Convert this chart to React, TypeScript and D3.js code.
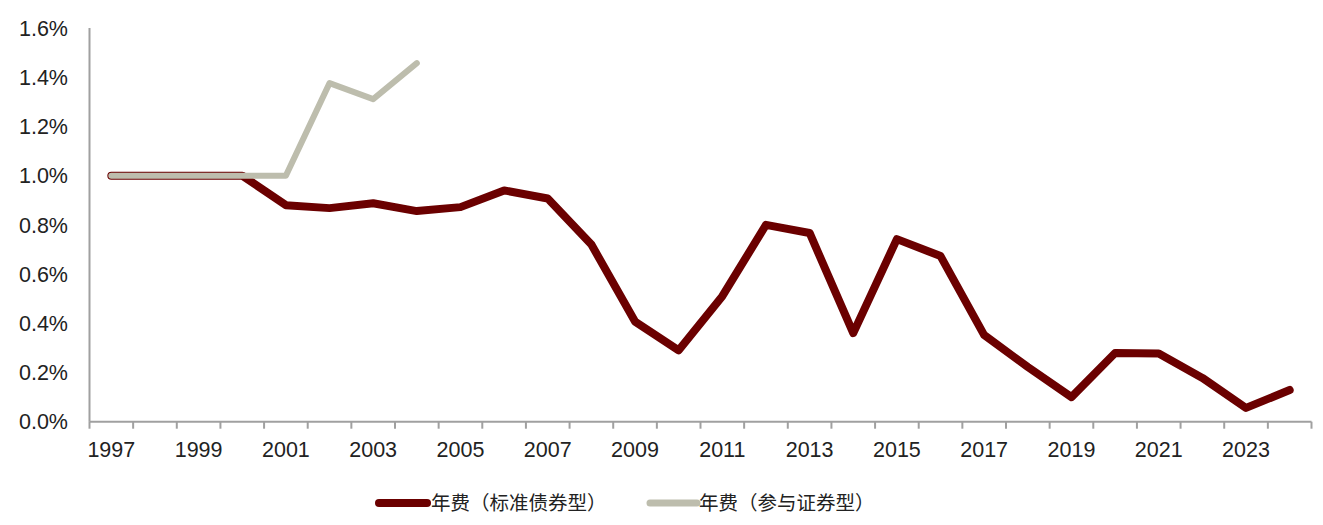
import React from "react";
import * as d3 from "d3";

const years = d3.range(1997, 2025).map(String);
const standardBond = [1.0, 1.0, 1.0, 1.0, 0.88, 0.868, 0.888, 0.856, 0.872, 0.94, 0.907, 0.72, 0.407, 0.29, 0.51, 0.8, 0.767, 0.36, 0.742, 0.673, 0.352, 0.222, 0.1, 0.279, 0.277, 0.178, 0.056, 0.129];
const participating = [1.0, 1.0, 1.0, 1.0, 1.0, 1.376, 1.311, 1.457];
const yTicks = [0, 0.2, 0.4, 0.6, 0.8, 1.0, 1.2, 1.4, 1.6];
const seriesNames = ["年费（标准债券型）", "年费（参与证券型）"];

const W = 1323, H = 525;
const left = 89.5, right = 1311.5, top = 28, bottom = 421.7;
const RED = "#6B0000", GRAY = "#BDBDAD";

export default function App() {
  const x = d3.scaleBand().domain(years).range([left, right]);
  const y = d3.scaleLinear().domain([0, 1.6]).range([bottom, top]);
  const cx = (yr: string) => (x(yr) as number) + x.bandwidth() / 2;
  const line = d3.line<[string, number]>().x((d) => cx(d[0])).y((d) => y(d[1]));
  const redData = years.map((yr, i) => [yr, standardBond[i]] as [string, number]);
  const grayData = participating.map((v, i) => [years[i], v] as [string, number]);
  const tickXs = years.map((yr) => x(yr) as number).concat([right]);
  const font = "'Liberation Sans', Arial, sans-serif";
  const cjk = "'Noto Sans CJK SC', sans-serif";
  return (
    <svg width={W} height={H} style={{ position: "absolute", left: 0, top: 0, background: "#fff" }}>
      <rect width={W} height={H} fill="#fff" />
      {/* axes */}
      <line x1={left} x2={left} y1={top} y2={bottom} stroke="#A0A0A0" strokeWidth={2} />
      <line x1={left} x2={right} y1={bottom} y2={bottom} stroke="#A0A0A0" strokeWidth={2} />
      {tickXs.map((tx, i) => (
        <line key={i} x1={tx} x2={tx} y1={bottom} y2={bottom + 7} stroke="#A0A0A0" strokeWidth={2} />
      ))}
      {yTicks.map((t) => (
        <text key={t} x={68} y={y(t)} dy="0.36em" textAnchor="end" fontFamily={font} fontSize={21.5} fill="#222">
          {t.toFixed(1) + "%"}
        </text>
      ))}
      {years.map((yr, i) =>
        i % 2 === 0 ? (
          <text key={yr} x={cx(yr)} y={449} dy="0.36em" textAnchor="middle" fontFamily={font} fontSize={21.5} fill="#222">
            {yr}
          </text>
        ) : null
      )}
      {/* series */}
      <path d={line(redData) || ""} fill="none" stroke={RED} strokeWidth={8} strokeLinejoin="round" strokeLinecap="round" />
      <path d={line(grayData) || ""} fill="none" stroke={GRAY} strokeWidth={6} strokeLinejoin="round" strokeLinecap="round" />
      {/* legend */}
      <line x1={379} x2={427} y1={503} y2={503} stroke={RED} strokeWidth={8} strokeLinecap="round" />
      <text x={431} y={503} dy="0.36em" fontFamily={cjk} fontSize={19.5} fill="#222">{seriesNames[0]}</text>
      <line x1={650} x2={697} y1={503} y2={503} stroke={GRAY} strokeWidth={7} strokeLinecap="round" />
      <text x={699} y={503} dy="0.36em" fontFamily={cjk} fontSize={19.5} fill="#222">{seriesNames[1]}</text>
    </svg>
  );
}
